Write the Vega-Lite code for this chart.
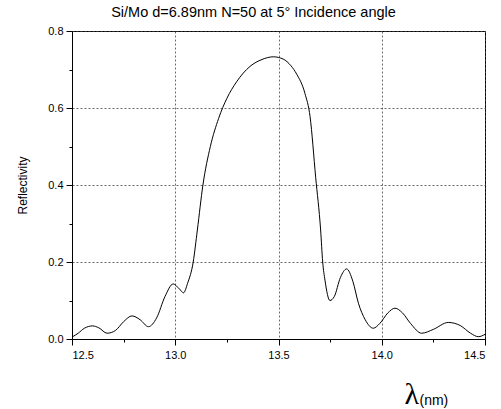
{
  "$schema": "https://vega.github.io/schema/vega-lite/v6.json",
  "width": 413,
  "height": 308,
  "autosize": "none",
  "padding": {"left": 72, "top": 31, "right": 16, "bottom": 70},
  "background": "white",
  "title": {"text": "Si/Mo d=6.89nm N=50 at 5° Incidence angle", "anchor": "middle", "dx": -25, "offset": 5, "fontSize": 14.5, "fontWeight": "normal", "font": "Liberation Sans", "color": "black"},
  "config": {"view": {"stroke": "black", "strokeWidth": 1}},
  "data": {"values": [
    {"wl": 12.50, "r": 0.005}, {"wl": 12.53, "r": 0.015}, {"wl": 12.56, "r": 0.028}, {"wl": 12.60, "r": 0.034},
    {"wl": 12.63, "r": 0.029}, {"wl": 12.67, "r": 0.015}, {"wl": 12.71, "r": 0.022}, {"wl": 12.75, "r": 0.045},
    {"wl": 12.79, "r": 0.060}, {"wl": 12.83, "r": 0.050}, {"wl": 12.87, "r": 0.032}, {"wl": 12.91, "r": 0.055},
    {"wl": 12.95, "r": 0.110}, {"wl": 12.99, "r": 0.143}, {"wl": 13.02, "r": 0.130}, {"wl": 13.04, "r": 0.120},
    {"wl": 13.06, "r": 0.145}, {"wl": 13.087, "r": 0.200}, {"wl": 13.107, "r": 0.283}, {"wl": 13.134, "r": 0.400},
    {"wl": 13.17, "r": 0.500}, {"wl": 13.21, "r": 0.573}, {"wl": 13.25, "r": 0.625}, {"wl": 13.297, "r": 0.668},
    {"wl": 13.362, "r": 0.708}, {"wl": 13.42, "r": 0.726}, {"wl": 13.475, "r": 0.733}, {"wl": 13.523, "r": 0.727},
    {"wl": 13.56, "r": 0.710}, {"wl": 13.588, "r": 0.688}, {"wl": 13.628, "r": 0.638}, {"wl": 13.653, "r": 0.577},
    {"wl": 13.68, "r": 0.420}, {"wl": 13.704, "r": 0.283}, {"wl": 13.714, "r": 0.200}, {"wl": 13.725, "r": 0.153},
    {"wl": 13.749, "r": 0.100}, {"wl": 13.77, "r": 0.110}, {"wl": 13.80, "r": 0.160}, {"wl": 13.83, "r": 0.182},
    {"wl": 13.86, "r": 0.150}, {"wl": 13.887, "r": 0.093}, {"wl": 13.92, "r": 0.050}, {"wl": 13.959, "r": 0.028},
    {"wl": 13.99, "r": 0.040}, {"wl": 14.03, "r": 0.068}, {"wl": 14.064, "r": 0.080}, {"wl": 14.10, "r": 0.068},
    {"wl": 14.14, "r": 0.040}, {"wl": 14.193, "r": 0.015}, {"wl": 14.25, "r": 0.025}, {"wl": 14.322, "r": 0.043},
    {"wl": 14.38, "r": 0.035}, {"wl": 14.43, "r": 0.015}, {"wl": 14.468, "r": 0.006}, {"wl": 14.50, "r": 0.012}
  ]},
  "layer": [
    {
      "mark": {"type": "line", "color": "black", "strokeWidth": 1, "interpolate": "monotone"},
      "encoding": {
        "x": {"field": "wl", "type": "quantitative", "scale": {"domain": [12.5, 14.5], "nice": false},
          "axis": {
            "values": [12.5, 12.75, 13.0, 13.25, 13.5, 13.75, 14.0, 14.25, 14.5],
            "labelExpr": "(datum.value*2) % 1 == 0 ? format(datum.value, '.1f') : ''",
            "tickSize": {"condition": {"test": "(datum.value*2) % 1 == 0", "value": 6}, "value": 3},
            "gridOpacity": {"condition": {"test": "(datum.value*2) % 1 == 0", "value": 1}, "value": 0},
            "grid": true, "gridDash": [2, 2], "gridColor": "#444", "gridWidth": 0.8,
            "domainColor": "black", "tickColor": "black",
            "labelFont": "Liberation Sans", "labelFontSize": 11, "labelColor": "black", "labelPadding": 4,
            "title": "λ", "titleFont": "Liberation Serif", "titleFontSize": 30, "titleFontWeight": "normal",
            "titleColor": "black", "titleAlign": "left", "titleBaseline": "alphabetic", "titleX": 332, "titleY": 64, "titleAnchor": null
          }},
        "y": {"field": "r", "type": "quantitative", "scale": {"domain": [0, 0.8], "nice": false},
          "axis": {
            "values": [0, 0.1, 0.2, 0.3, 0.4, 0.5, 0.6, 0.7, 0.8],
            "labelExpr": "round(datum.value*10) % 2 == 0 ? format(datum.value, '.1f') : ''",
            "tickSize": {"condition": {"test": "round(datum.value*10) % 2 == 0", "value": 6}, "value": 3},
            "gridOpacity": {"condition": {"test": "round(datum.value*10) % 2 == 0", "value": 1}, "value": 0},
            "grid": true, "gridDash": [2, 2], "gridColor": "#444", "gridWidth": 0.8,
            "domainColor": "black", "tickColor": "black",
            "labelFont": "Liberation Sans", "labelFontSize": 11, "labelColor": "black", "labelPadding": 3,
            "title": "Reflectivity", "titleFont": "Liberation Sans", "titleFontSize": 12, "titleFontWeight": "normal",
            "titleColor": "black", "titlePadding": 18
          }}
      }
    },
    {
      "mark": {"type": "line", "strokeOpacity": 0},
      "encoding": {
        "x": {"field": "wl", "type": "quantitative"},
        "y": {"field": "r", "type": "quantitative",
          "axis": {"orient": "right", "labels": false, "ticks": false, "domain": false, "grid": false,
            "title": "(nm)", "titleAngle": 0, "titleFont": "Liberation Sans", "titleFontSize": 14, "titleFontWeight": "normal",
            "titleColor": "black", "titleAlign": "left", "titleBaseline": "alphabetic", "titleX": -66, "titleY": 373, "titleAnchor": null}}
      }
    }
  ],
  "resolve": {"axis": {"y": "independent"}}
}
